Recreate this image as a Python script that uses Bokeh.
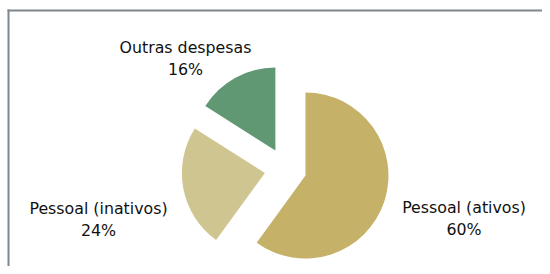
import math
from bokeh.plotting import figure
from bokeh.models import ColumnDataSource
from bokeh.core.properties import value
from bokeh.embed import file_html
from bokeh.resources import INLINE

# --- data ---
categories = ["Pessoal (ativos)", "Pessoal (inativos)", "Outras despesas"]
shares = [60, 24, 16]
pct_labels = ["60%", "24%", "16%"]
colors = ["#C5B168", "#CFC591", "#609873"]

# --- layout constants (pixels in plot space, y up) ---
W, H = 542, 266
CX, CY = 285.0, 97.5
R = 83.0
EXPLODE = 21.0
label_anchor = [(463.5, 59.0), (98.0, 58.0), (185.0, 219.0)]
LINE_GAP = 21.5
FONT = "DejaVu Sans"
FSIZE = "15.8px"

total = float(sum(shares))
starts, ends, xs, ys = [], [], [], []
cum = 0.0
for s in shares:
    end = math.pi / 2 - cum / total * 2 * math.pi
    start = end - s / total * 2 * math.pi
    mid = (start + end) / 2
    starts.append(start)
    ends.append(end)
    xs.append(CX + EXPLODE * math.cos(mid))
    ys.append(CY + EXPLODE * math.sin(mid))
    cum += s

src = ColumnDataSource(dict(x=xs, y=ys, start=starts, end=ends, color=colors,
                            cat=categories, pct=pct_labels,
                            lx=[a[0] for a in label_anchor],
                            ly1=[a[1] for a in label_anchor],
                            ly2=[a[1] - LINE_GAP for a in label_anchor]))

p = figure(width=W, height=H, x_range=(0, W), y_range=(0, H),
           output_backend="svg", toolbar_location=None, min_border=0,
           background_fill_color="white", border_fill_color="white")
p.axis.visible = False
p.grid.visible = False
p.outline_line_color = None

p.wedge(x="x", y="y", radius=R, start_angle="start", end_angle="end",
        fill_color="color", line_color=None, source=src)

p.text(x="lx", y="ly1", text="cat", source=src, text_align="center",
       text_baseline="alphabetic", text_font=value(FONT),
       text_font_size=FSIZE, text_color="#111111")
p.text(x="lx", y="ly2", text="pct", source=src, text_align="center",
       text_baseline="alphabetic", text_font=value(FONT),
       text_font_size=FSIZE, text_color="#111111")

# frame lines (top and left)
p.line(x=[7, W], y=[256, 256], line_color="#7E868F", line_width=2)
p.line(x=[8, 8], y=[0, 257], line_color="#7E868F", line_width=2)

open("out.html", "w").write(file_html(p, INLINE))
